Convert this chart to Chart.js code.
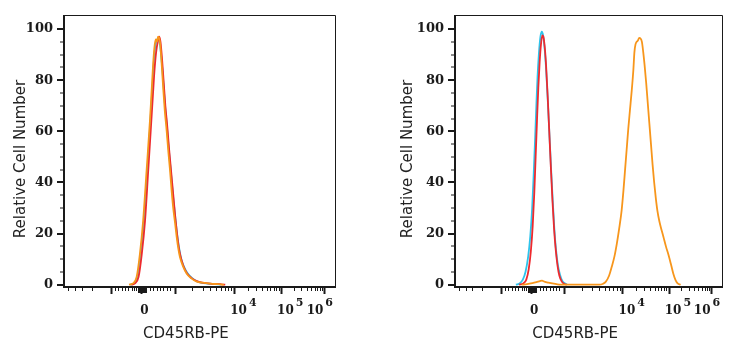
<!DOCTYPE html>
<html>
<head>
<meta charset="utf-8">
<script src="https://cdn.jsdelivr.net/npm/chart.js@4.4.1/dist/chart.umd.min.js"></script>
<style>
  body { margin: 0; background: #fff; }
  .panel { position: absolute; top: 0; width: 369px; height: 350px; }
  #p1 { left: 0; }
  #p2 { left: 369px; }
</style>
</head>
<body>
<div class="panel" id="p1"><canvas id="left" width="369" height="350"></canvas></div>
<div class="panel" id="p2"><canvas id="right" width="369" height="350"></canvas></div>
<script>
// x is the position on the display (biexponential) axis, 0..1000 across the plot
const yTicks = [0, 20, 40, 60, 80, 100];
const xTitle = 'CD45RB-PE';
const yTitle = 'Relative Cell Number';

// tick marks on the x axis (display units)
const xDecades = [408, 627, 800, 960];           // 10^3, 10^4, 10^5, 10^6
const xMajorTicks = [172, 285, 408, 627, 800, 960];
const xZeroCluster = [273, 275.5, 278, 280.5, 283, 285.5, 288, 290.5, 293, 295.5, 298, 300.5, 303];
const xLinearTicks = [16, 41, 65, 102, 188, 200, 213, 225, 237, 250, 258, 266, 317, 330, 342, 354, 366, 379, 391];
const xLabelPos = [297, 662, 835, 944];
const xLabelBase = ['0', '10', '10', '10'];
const xLabelExp = ['', '4', '5', '6'];

// histograms, [x, relative count]
const leftOrange = [[240,0],[255,0.5],[268,3],[280,12],[292,25],[305,45],[317,64],[324,77],[330,88],[335,94],[339,96],[343,95],[347,97],[351,96.5],[355,94],[360,87],[366,77],[372,68],[379,60],[385,52],[391,45],[397,37],[403,30],[410,24],[416,18.5],[422,14],[428,10.7],[440,7],[453,4.3],[470,2.5],[490,1.2],[510,0.8],[540,0.4],[570,0.2],[590,0]];
const leftRed = [[248,0],[262,0.5],[275,3],[287,12],[299,25],[311,45],[321,62],[328,74],[334,84],[340,91],[346,95],[351,97],[356,95],[362,88],[368,79],[374,70],[381,62],[387,54],[393,47],[399,40],[405,33],[411,26],[417,20],[423,15],[429,11.5],[440,7.5],[453,4.6],[470,2.7],[490,1.4],[510,0.8],[540,0.4],[575,0.2],[595,0]];
const leftCyan = [[244,0],[258,0.5],[271,3],[283,12],[295,25],[308,45],[319,64],[326,77],[332,88],[338,94],[344,96],[349,96],[354,94],[360,88],[366,80],[372,71],[379,63],[385,55],[391,48],[397,41],[403,34],[409,28],[415,22],[421,17],[427,13],[433,10],[443,7],[456,4.5],[473,2.6],[493,1.2],[515,0.6],[545,0.3],[580,0]];

const rightOrange = [[250,0],[270,0.2],[290,0.6],[305,1],[318,1.4],[326,1.6],[335,1.2],[350,0.8],[365,0.5],[380,0.2],[395,0],[480,0],[540,0],[555,0.4],[565,1.2],[577,3.5],[587,7],[597,11],[606,16],[615,22],[624,29],[631,37],[637,45],[643,53],[649,61],[655,68],[662,76],[668,84],[672,91],[676,94],[680,95],[685,95.5],[690,96.5],[695,96.3],[700,95],[705,91],[710,86],[716,79],[722,71],[728,63],[734,55],[740,47],[746,40],[752,34],[758,29],[765,25],[772,22],[780,19],[790,15],[800,11.5],[810,7.5],[818,4.2],[826,1.8],[834,0.5],[845,0]];
const rightRed = [[240,0],[256,0.5],[267,2],[276,6],[284,13],[291,23],[297,36],[302,50],[307,64],[312,77],[317,87],[322,94],[327,97.5],[331,97],[336,93],[341,86],[347,74],[353,60],[359,46],[365,33],[371,22],[377,14],[384,7.5],[391,3.5],[400,1.2],[410,0.3],[418,0]];
const rightCyan = [[228,0],[242,0.5],[254,2],[264,5],[274,11],[282,19],[289,30],[295,44],[300,57],[305,71],[309,81],[314,90],[320,97],[325,99],[330,97.5],[336,92],[342,83],[348,71],[354,58],[360,45],[366,33],[372,22],[378,14],[385,8],[393,4],[402,1.5],[412,0.5],[420,0]];

const ORANGE = '#f7961c';
const RED = '#ee2a2e';
const CYAN = '#2ec4ec';
const INK = '#1a1a1a';

// minor log ticks inside each decade
function decadeTicks() {
  const out = [];
  for (let i = 0; i < xDecades.length - 1; i++) {
    const a = xDecades[i], b = xDecades[i + 1];
    for (let k = 2; k <= 9; k++) out.push(a + (b - a) * Math.log10(k));
  }
  return out;
}
const xMinorTicks = xLinearTicks.concat(decadeTicks());
const yMinorTicks = [];
for (let v = 5; v < 100; v += 5) if (v % 20) yMinorTicks.push(v);

const frameAndAxes = {
  id: 'frameAndAxes',
  afterDatasetsDraw(chart, args, opts) {
    const { ctx, chartArea: a, scales: { x, y } } = chart;
    ctx.save();
    ctx.strokeStyle = INK;
    ctx.fillStyle = INK;

    // thin top and right edges
    ctx.lineWidth = 1;
    ctx.beginPath();
    ctx.moveTo(a.left, a.top + 0.5);
    ctx.lineTo(a.right + 0.5, a.top + 0.5);
    ctx.lineTo(a.right + 0.5, a.bottom + 1);
    ctx.stroke();

    // heavy left and bottom axes
    ctx.lineWidth = 2;
    ctx.beginPath();
    ctx.moveTo(a.left, a.top);
    ctx.lineTo(a.left, a.bottom + 1);
    ctx.lineTo(a.right + 1, a.bottom + 1);
    ctx.stroke();

    const hTick = (v, len, w) => {
      const py = Math.round(y.getPixelForValue(v));
      ctx.lineWidth = w;
      ctx.beginPath();
      ctx.moveTo(a.left - 1, py);
      ctx.lineTo(a.left - 1 - len, py);
      ctx.stroke();
    };
    yTicks.forEach(v => hTick(v, 6, 2));
    yMinorTicks.forEach(v => hTick(v, 3, 1));

    const vTick = (v, len, w) => {
      const px = Math.round(x.getPixelForValue(v)) + 0.5;
      ctx.lineWidth = w;
      ctx.beginPath();
      ctx.moveTo(px, a.bottom + 2);
      ctx.lineTo(px, a.bottom + 2 + len);
      ctx.stroke();
    };
    xMinorTicks.forEach(v => vTick(v, 3, 1));
    xZeroCluster.forEach(v => vTick(v, 5, 1));
    xMajorTicks.forEach(v => vTick(v, 6, 2));

    // x tick labels with superscript exponents
    ctx.textBaseline = 'alphabetic';
    ctx.textAlign = 'left';
    xLabelPos.forEach((v, i) => {
      ctx.font = 'bold 12px "DejaVu Serif"';
      const bw = ctx.measureText(xLabelBase[i]).width;
      ctx.font = 'bold 11px "DejaVu Serif"';
      const ew = xLabelExp[i] ? ctx.measureText(xLabelExp[i]).width + 2 : 0;
      const start = x.getPixelForValue(v) - (bw + ew) / 2;
      ctx.font = 'bold 12px "DejaVu Serif"';
      ctx.fillText(xLabelBase[i], start, a.bottom + 28);
      if (xLabelExp[i]) {
        ctx.font = 'bold 11px "DejaVu Serif"';
        ctx.fillText(xLabelExp[i], start + bw + 2, a.bottom + 20);
      }
    });

    // axis titles
    ctx.font = '15px "DejaVu Sans"';
    ctx.fillStyle = '#222';
    ctx.textAlign = 'center';
    ctx.fillText(xTitle, x.getPixelForValue(450), a.bottom + 52);

    ctx.translate(a.left - opts.yTitleGap, a.top + 144);
    ctx.rotate(-Math.PI / 2);
    ctx.fillText(yTitle, 0, 0);
    ctx.restore();
  }
};

function makePanel(canvasId, yAxisWidth, rightPad, yTitleGap, series) {
  return new Chart(document.getElementById(canvasId), {
    type: 'line',
    data: {
      datasets: series.map(s => ({
        data: s.points.map(([px, py]) => ({ x: px, y: py })),
        borderColor: s.color,
        borderWidth: 1.8,
        pointRadius: 0,
        fill: false,
        cubicInterpolationMode: 'monotone'
      }))
    },
    options: {
      responsive: false,
      animation: false,
      devicePixelRatio: 1,
      layout: { padding: { left: 0, top: 15, right: rightPad, bottom: 64 } },
      plugins: {
        legend: { display: false },
        tooltip: { enabled: false },
        frameAndAxes: { yTitleGap: yTitleGap }
      },
      scales: {
        x: { type: 'linear', display: false, min: 0, max: 1000 },
        y: {
          min: -0.5,
          max: 105.5,
          grid: { display: false, drawTicks: false },
          border: { display: false },
          afterBuildTicks: s => { s.ticks = yTicks.map(v => ({ value: v })); },
          afterFit: s => {
            s.width = yAxisWidth;
            s.paddingTop = 0;
            s.paddingBottom = 0;
          },
          ticks: { padding: 11, color: INK, font: { family: 'DejaVu Serif', size: 13, weight: 'bold' } }
        }
      }
    },
    plugins: [frameAndAxes]
  });
}

// first dataset is drawn on top
makePanel('left', 64, 34, 39, [
  { points: leftOrange, color: ORANGE },
  { points: leftRed, color: RED },
  { points: leftCyan, color: CYAN }
]);
makePanel('right', 86, 16, 43, [
  { points: rightOrange, color: ORANGE },
  { points: rightRed, color: RED },
  { points: rightCyan, color: CYAN }
]);
</script>
</body>
</html>
